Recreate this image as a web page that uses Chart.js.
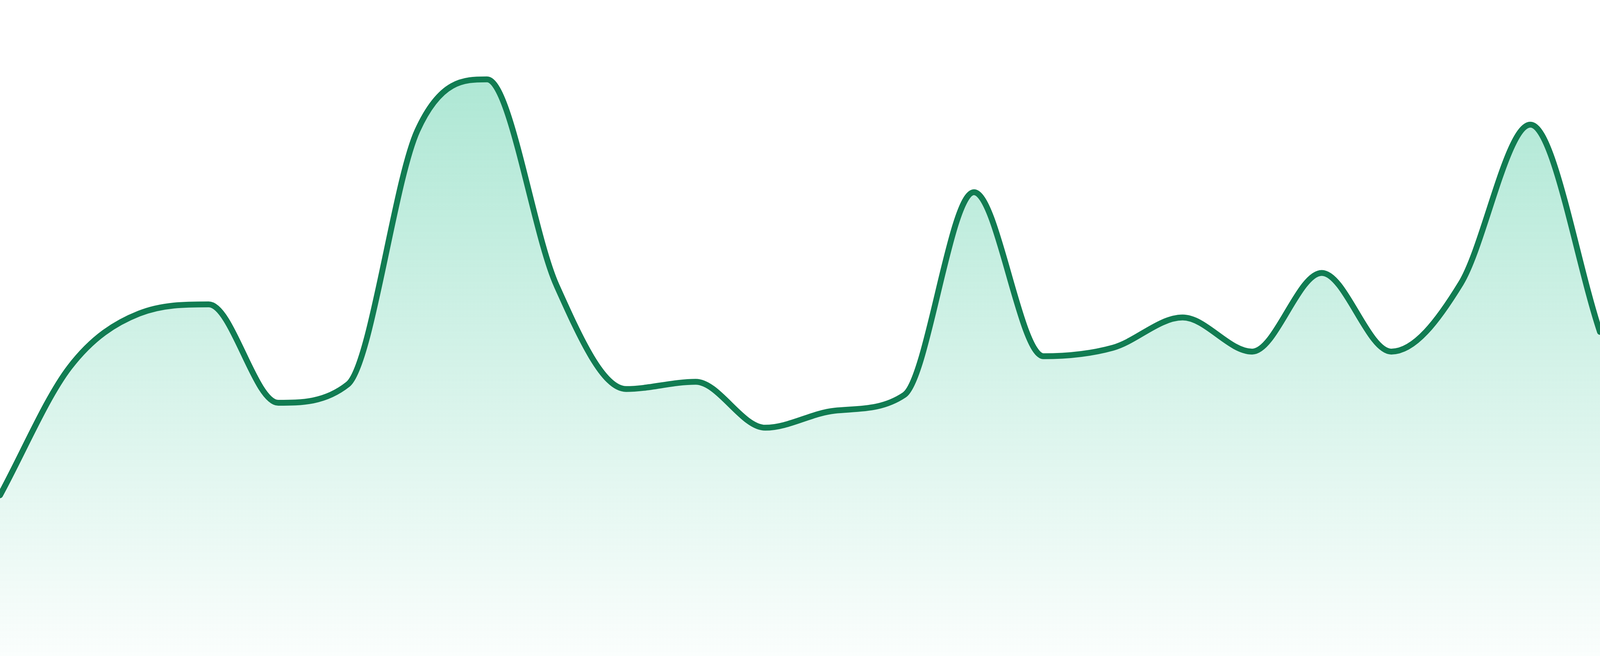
<!DOCTYPE html>
<html>
<head>
<meta charset="utf-8">
<title>Andamento</title>
<script src="https://cdn.jsdelivr.net/npm/chart.js@4.4.1/dist/chart.umd.min.js"></script>
<style>
  html, body { margin: 0; padding: 0; background: #ffffff; overflow: hidden; }
  #contenitore { position: relative; width: 100vw; height: 100vh; }
</style>
</head>
<body>
<div id="contenitore"><canvas id="grafico"></canvas></div>
<script>
// orari (asse x, non visibile)
var orari = ["00:00","01:00","02:00","03:00","04:00","05:00","06:00","07:00",
             "08:00","09:00","10:00","11:00","12:00","13:00","14:00","15:00",
             "16:00","17:00","18:00","19:00","20:00","21:00","22:00","23:00"];

// valori (scala 0-100)
var valori = [24.5, 44.0, 52.2, 53.6, 38.6, 41.4, 80.1, 87.9,
              56.5, 40.7, 41.8, 34.8, 37.4, 39.8, 70.7, 45.7,
              47.0, 51.6, 46.4, 58.4, 46.4, 56.8, 81.0, 49.4];

var scalaMin = 0;
var scalaMax = 100;

function sfumatura(context) {
    var chart = context.chart;
    var area = chart.chartArea;
    if (!area) {
        return null;
    }
    var g = chart.ctx.createLinearGradient(0, area.top, 0, area.bottom);
    g.addColorStop(0, "rgba(16,185,129,0.38)");
    g.addColorStop(1, "rgba(16,185,129,0.02)");
    return g;
}

var grafico = document.getElementById("grafico").getContext("2d");
var chart = new Chart(grafico, {
    type: "line",
    data: {
        labels: orari,
        datasets: [{
            label: "Valore",
            data: valori,
            borderColor: "#117c52",
            borderWidth: 15,
            borderCapStyle: "round",
            borderJoinStyle: "round",
            backgroundColor: sfumatura,
            fill: "start",
            cubicInterpolationMode: "monotone",
            pointRadius: 0,
            pointHoverRadius: 0
        }]
    },
    options: {
        responsive: true,
        maintainAspectRatio: false,
        animation: false,
        layout: { padding: 0 },
        plugins: {
            legend: { display: false },
            tooltip: { enabled: false }
        },
        scales: {
            x: { display: false },
            y: { display: false, min: scalaMin, max: scalaMax }
        }
    }
});
</script>
</body>
</html>
